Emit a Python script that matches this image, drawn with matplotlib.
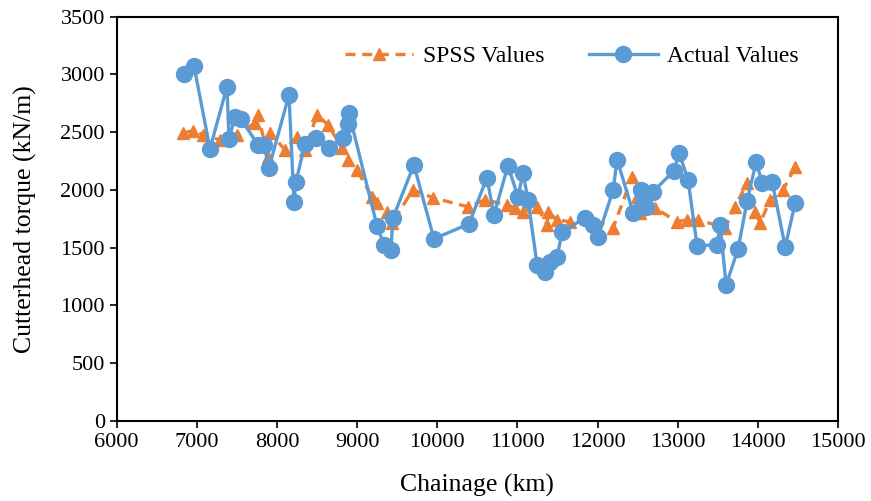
# Cutterhead torque vs chainage: SPSS predictions against measured values
import matplotlib.pyplot as plt
import numpy as np

plt.rcParams['font.family'] = ['Liberation Serif', 'DejaVu Serif']

# SPSS predicted values
spss_chainage = [6829, 6954, 7079, 7289, 7501, 7726, 7763, 7888, 7913, 8100,
                 8250, 8349, 8499, 8636, 8811, 8886, 8998, 9185, 9248, 9373,
                 9435, 9697, 9947, 10383, 10595, 10870, 10970, 11070, 11246, 11371,
                 11383, 11496, 11658, 11932, 12195, 12432, 12495, 12532, 12719, 12993,
                 13118, 13255, 13592, 13717, 13867, 13967, 14030, 14155, 14317, 14467]
spss_torque = [2493, 2511, 2476, 2433, 2476, 2580, 2649, 2286, 2493, 2346,
               2459, 2346, 2649, 2563, 2363, 2260, 2173, 1939, 1887, 1809,
               1714, 2000, 1931, 1853, 1913, 1870, 1844, 1809, 1853, 1697,
               1809, 1740, 1723, 1740, 1671, 2112, 1939, 1801, 1844, 1723,
               1740, 1740, 1671, 1853, 2060, 1809, 1714, 1913, 2000, 2199]

# Actual (measured) values
actual_chainage = [6840, 6964, 7164, 7376, 7401, 7476, 7551, 7763, 7838, 7900,
                   8150, 8212, 8237, 8349, 8487, 8649, 8824, 8886, 8898, 9248,
                   9335, 9422, 9447, 9709, 9959, 10396, 10620, 10708, 10882, 11008,
                   11070, 11133, 11246, 11346, 11408, 11496, 11558, 11845, 11945, 12007,
                   12195, 12245, 12445, 12540, 12577, 12602, 12690, 12955, 13018, 13130,
                   13243, 13492, 13530, 13605, 13755, 13867, 13980, 14055, 14180, 14342,
                   14467]
actual_torque = [3004, 3073, 2355, 2892, 2441, 2632, 2614, 2389, 2389, 2190,
                 2822, 1896, 2069, 2398, 2450, 2363, 2450, 2571, 2666, 1688,
                 1524, 1480, 1757, 2216, 1576, 1705, 2104, 1783, 2208, 1939,
                 2147, 1913, 1351, 1290, 1376, 1420, 1636, 1757, 1697, 1593,
                 2000, 2260, 1801, 2000, 1939, 1853, 1983, 2164, 2320, 2086,
                 1515, 1524, 1697, 1177, 1489, 1905, 2242, 2060, 2069, 1506,
                 1887]

fig = plt.figure(figsize=(8.71, 5.01), dpi=100)
ax = fig.add_axes([0.134, 0.160, 0.828, 0.807])

ax.plot(spss_chainage, spss_torque, color='#ED7D31', linestyle='--', linewidth=2.4,
        dashes=(3, 2), marker='^', markersize=9, label='SPSS Values')
ax.plot(actual_chainage, actual_torque, color='#5B9BD5', linewidth=2.4,
        marker='o', markersize=11.5, label='Actual Values')

ax.set_xlim(6000, 15000)
ax.set_ylim(0, 3500)
ax.set_xticks(np.arange(6000, 15001, 1000))
ax.set_yticks(np.arange(0, 3501, 500))
ax.tick_params(direction='out', length=5, width=1.2, labelsize=16, colors='black')
for s in ax.spines.values():
    s.set_linewidth(1.5)

ax.set_xlabel('Chainage (km)', fontsize=18.5, labelpad=16)
ax.set_ylabel('Cutterhead torque (kN/m)', fontsize=18.5, labelpad=17)

ax.legend(loc='upper right', ncol=2, frameon=False, fontsize=17,
          handlelength=2.9, handletextpad=0.4, columnspacing=1.9,
          bbox_to_anchor=(0.975, 0.98))

fig.savefig('out.png', dpi=100)
